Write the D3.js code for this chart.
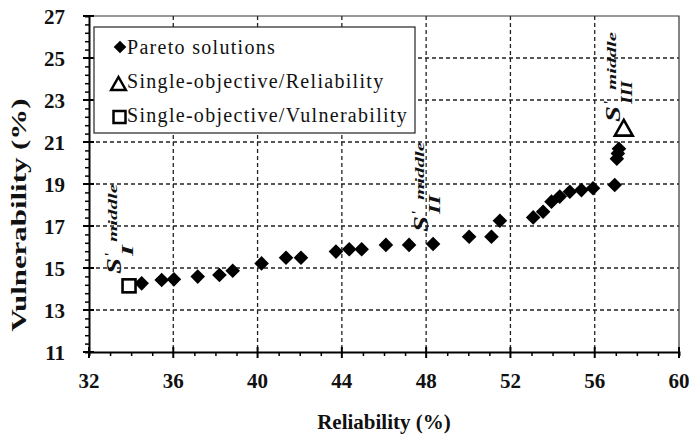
<!DOCTYPE html>
<html>
<head>
<meta charset="utf-8">
<script src="https://cdn.jsdelivr.net/npm/d3@7"></script>
<style>
  body { margin: 0; background: #fff; }
  svg { display: block; }
  svg text { font-family: 'Liberation Serif', 'Times New Roman', 'DejaVu Serif', serif; }
</style>
</head>
<body>
<div id="chart"></div>
<script>
// values
const paretoX = [34.50, 35.45, 36.03, 37.16, 38.19, 38.82, 40.19, 41.35, 42.06, 43.72, 44.35, 44.94,
                 46.09, 47.19, 48.33, 50.04, 51.10, 51.50, 53.08, 53.55, 53.95, 54.34, 54.82, 55.37,
                 55.92, 56.95, 57.05, 57.10, 57.15];
const paretoY = [14.27, 14.43, 14.46, 14.59, 14.67, 14.87, 15.22, 15.49, 15.49, 15.78, 15.89, 15.89,
                 16.10, 16.10, 16.14, 16.49, 16.49, 17.25, 17.41, 17.68, 18.16, 18.40, 18.63, 18.71,
                 18.80, 18.95, 20.20, 20.45, 20.68];
const singleRelX = [57.38];
const singleRelY = [21.65];
const singleVulX = [33.90];
const singleVulY = [14.15];

const xTicks = [32, 36, 40, 44, 48, 52, 56, 60];
const yTicks = [11, 13, 15, 17, 19, 21, 23, 25, 27];

const legendLabels = ['Pareto solutions', 'Single-objective/Reliability', 'Single-objective/Vulnerability'];

const noteX = [33.52, 48.08, 57.19];
const noteY = [14.76, 16.76, 22.00];
const noteSub = ['I', 'II', 'III'];

const W = 689, H = 442;
const margin = {left: 89, top: 16, right: 10, bottom: 90};
const w = W - margin.left - margin.right;
const h = H - margin.top - margin.bottom;

const svg = d3.select('#chart').append('svg')
    .attr('width', W)
    .attr('height', H);

const g = svg.append('g').attr('transform', `translate(${margin.left},${margin.top})`);

const x = d3.scaleLinear().domain([32, 60]).range([0, w]);
const y = d3.scaleLinear().domain([11, 27]).range([h, 0]);

// dashed grid
g.append('g').selectAll('line')
    .data(xTicks.slice(1, -1))
    .join('line')
    .attr('x1', d => x(d)).attr('x2', d => x(d))
    .attr('y1', 0).attr('y2', h)
    .attr('stroke', '#222').attr('stroke-width', 1.3).attr('stroke-dasharray', '4,3');

g.append('g').selectAll('line')
    .data(yTicks.slice(1, -1))
    .join('line')
    .attr('x1', 0).attr('x2', w)
    .attr('y1', d => y(d)).attr('y2', d => y(d))
    .attr('stroke', '#222').attr('stroke-width', 1.3).attr('stroke-dasharray', '4,3');

// top and right frame
g.append('path')
    .attr('d', `M0,0H${w}V${h}`)
    .attr('fill', 'none').attr('stroke', '#333').attr('stroke-width', 1.2);

// legend
const legend = svg.append('g').attr('transform', 'translate(94,27)');
legend.append('rect')
    .attr('width', 321).attr('height', 106)
    .attr('fill', '#fff').attr('stroke', '#333').attr('stroke-width', 1.3);

legend.selectAll('text')
    .data(legendLabels)
    .join('text')
    .attr('x', 33)
    .attr('y', (d, i) => 27 + i * 33.8)
    .attr('font-size', 20)
    .attr('letter-spacing', 1.3)
    .attr('fill', '#111')
    .text(d => d);

const diamond = s => `M0,${-s}L${s},0L0,${s}L${-s},0Z`;
const triangle = s => `M0,${-s}L${s * 1.05},${s * 0.85}L${-s * 1.05},${s * 0.85}Z`;

legend.append('path').attr('transform', 'translate(26,20)').attr('d', diamond(6.3)).attr('fill', '#000');
legend.append('path').attr('transform', 'translate(24.5,57)').attr('d', triangle(7)).attr('fill', 'none')
    .attr('stroke', '#000').attr('stroke-width', 2.5);
legend.append('rect').attr('x', 19.5).attr('y', 84).attr('width', 12).attr('height', 12)
    .attr('fill', 'none').attr('stroke', '#000').attr('stroke-width', 2.5);

// pareto points
g.append('g').selectAll('path')
    .data(paretoX)
    .join('path')
    .attr('transform', (d, i) => `translate(${x(d)},${y(paretoY[i])})`)
    .attr('d', diamond(7.3))
    .attr('fill', '#000');

g.append('g').selectAll('path')
    .data(singleRelX)
    .join('path')
    .attr('transform', (d, i) => `translate(${x(d)},${y(singleRelY[i])})`)
    .attr('d', triangle(8.5))
    .attr('fill', '#fff').attr('stroke', '#000').attr('stroke-width', 2.6);

g.append('g').selectAll('rect')
    .data(singleVulX)
    .join('rect')
    .attr('x', d => x(d) - 6.5)
    .attr('y', (d, i) => y(singleVulY[i]) - 6.5)
    .attr('width', 13).attr('height', 13)
    .attr('fill', '#fff').attr('stroke', '#000').attr('stroke-width', 2.6);

// S'middle annotations
const notes = g.append('g').selectAll('g')
    .data(noteX)
    .join('g')
    .attr('transform', (d, i) => `translate(${x(d)},${y(noteY[i])}) rotate(-90)`)
    .attr('font-weight', 'bold').attr('font-style', 'italic').attr('fill', '#111');

notes.append('text')
    .attr('x', -1)
    .attr('font-size', 20).attr('textLength', 16).attr('lengthAdjust', 'spacingAndGlyphs')
    .text('S');
notes.append('text')
    .attr('x', 16).attr('y', -6).attr('font-size', 15)
    .text("'");
notes.append('text')
    .attr('x', 31).attr('y', -4).attr('font-size', 12)
    .attr('textLength', 58).attr('lengthAdjust', 'spacingAndGlyphs')
    .text('middle');
notes.append('text')
    .attr('x', 17).attr('y', 12).attr('font-size', 16)
    .attr('textLength', (d, i) => [11, 19, 23][i]).attr('lengthAdjust', 'spacingAndGlyphs')
    .text((d, i) => noteSub[i]);

// axes
const minorX = d3.range(32, 61, 1).filter(v => !xTicks.includes(v));
const minorY = d3.range(11, 27.01, 0.4).filter(v => !yTicks.some(t => Math.abs(t - v) < 0.01));

const xAxis = g.append('g').attr('transform', `translate(0,${h})`)
    .call(d3.axisBottom(x).tickValues(minorX).tickSize(4).tickFormat(''));
const yAxis = g.append('g')
    .call(d3.axisLeft(y).tickValues(minorY).tickSize(4).tickFormat(''));
[xAxis, yAxis].forEach(a => {
    a.select('.domain').attr('stroke', '#000').attr('stroke-width', 2);
    a.selectAll('.tick line').attr('stroke', '#000').attr('stroke-width', 1.5);
});

xAxis.selectAll('.major').data(xTicks).join('line')
    .attr('x1', d => x(d)).attr('x2', d => x(d))
    .attr('y1', -5).attr('y2', 6)
    .attr('stroke', '#000').attr('stroke-width', 2);
yAxis.selectAll('.major').data(yTicks).join('line')
    .attr('y1', d => y(d)).attr('y2', d => y(d))
    .attr('x1', -6).attr('x2', 5)
    .attr('stroke', '#000').attr('stroke-width', 2);

g.append('g').selectAll('text')
    .data(xTicks)
    .join('text')
    .attr('x', d => x(d))
    .attr('y', h + 36)
    .attr('text-anchor', 'middle')
    .attr('font-size', 21).attr('font-weight', 'bold').attr('fill', '#111')
    .text(d => d);

g.append('g').selectAll('text')
    .data(yTicks)
    .join('text')
    .attr('x', -24)
    .attr('y', d => y(d) + 8)
    .attr('text-anchor', 'end')
    .attr('font-size', 21).attr('font-weight', 'bold').attr('fill', '#111')
    .text(d => d);

svg.append('text')
    .attr('x', 384).attr('y', 429)
    .attr('text-anchor', 'middle')
    .attr('font-size', 21).attr('font-weight', 'bold').attr('fill', '#111')
    .text('Reliability (%)');

svg.append('text')
    .attr('transform', 'translate(26,215) rotate(-90)')
    .attr('text-anchor', 'middle')
    .attr('font-size', 21).attr('font-weight', 'bold').attr('fill', '#111')
    .attr('textLength', 233).attr('lengthAdjust', 'spacingAndGlyphs')
    .text('Vulnerability (%)');
</script>
</body>
</html>
